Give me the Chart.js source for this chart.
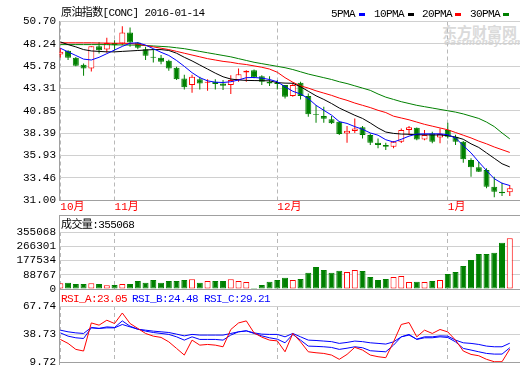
<!DOCTYPE html>
<html>
<head>
<meta charset="utf-8">
<script src="https://cdn.jsdelivr.net/npm/chart.js@4.4.1/dist/chart.umd.min.js"></script>
<style>
  body { margin: 0; background: #fff; }
  #wrap { position: relative; width: 520px; height: 365px; overflow: hidden;
          font-family: "Liberation Mono", "Noto Sans CJK SC", monospace; font-size: 11px; }
  canvas { position: absolute; left: 0; top: 0; }
  .t { position: absolute; white-space: nowrap; line-height: 13px; letter-spacing: -0.6px; }
  .ln { position: absolute; background: #a0a0a0; }
  .mk { position: absolute; width: 6px; height: 3px; }
  .wm { position: absolute; color: #dadada; white-space: nowrap; }
</style>
</head>
<body>
<div id="wrap">
  <div class="wm" style="left:442px;top:21px;font:bold 15px 'Noto Sans CJK SC';">东方财富网</div>
  <div class="wm" style="left:444px;top:37px;font:bold italic 9px 'DejaVu Sans';">eastmoney.com</div>

  <canvas id="price" width="520" height="365"></canvas>
  <canvas id="vol" width="520" height="365"></canvas>
  <canvas id="rsi" width="520" height="365"></canvas>

  <div class="t" style="left:61px;top:7px;">原油指数[CONC] 2016-01-14</div>
  <div class="t" style="left:331px;top:8px;">5PMA</div>
  <div class="mk" style="left:359px;top:13px;background:#0000ff;"></div>
  <div class="t" style="left:374px;top:8px;">10PMA</div>
  <div class="mk" style="left:408px;top:13px;background:#000;"></div>
  <div class="t" style="left:422px;top:8px;">20PMA</div>
  <div class="mk" style="left:455px;top:13px;background:#ff0000;"></div>
  <div class="t" style="left:470px;top:8px;">30PMA</div>
  <div class="mk" style="left:503px;top:13px;background:#008000;"></div>

  <div class="ln" style="left:59px;top:215px;width:461px;height:1px;"></div>
  <div class="ln" style="left:59px;top:215px;width:1px;height:150px;"></div>
  <div class="t" style="left:61px;top:219px;">成交量:355068</div>

  <div class="t" style="left:61px;top:293px;color:#ff0000;">RSI_A:23.05</div>
  <div class="t" style="left:132px;top:293px;color:#0000ff;">RSI_B:24.48</div>
  <div class="t" style="left:204px;top:293px;color:#0000ff;">RSI_C:29.21</div>
</div>

<script>
// daily candles, 2015-10-22 .. 2016-01-14
const open = [47.06, 47.46, 46.69, 45.92, 45.52, 47.98, 47.61, 48.34, 48.28, 49.49,
  48.39, 47.65, 46.80, 46.69, 46.36, 45.59, 44.42, 43.68, 44.34, 43.93,
  44.04, 43.87, 43.68, 44.23, 45.08, 45.33, 44.67, 44.04, 43.93, 43.68,
  42.47, 43.93, 42.47, 40.50, 40.26, 39.90, 39.63, 38.35, 38.61, 39.02,
  38.17, 37.32, 37.06, 36.88, 37.43, 38.72, 38.97, 37.69, 38.35, 37.91,
  38.72, 37.98, 37.43, 35.41, 34.61, 34.31, 32.47, 31.92, 31.85];
const close = [47.35, 46.69, 45.81, 45.52, 47.98, 47.54, 48.34, 48.09, 49.49, 48.39,
  47.79, 46.91, 46.69, 46.25, 45.52, 44.34, 43.43, 44.60, 43.87, 44.04,
  43.79, 43.60, 44.23, 44.89, 45.26, 44.53, 44.04, 43.87, 43.79, 42.39,
  43.68, 42.47, 40.45, 40.40, 39.96, 39.46, 38.28, 38.64, 38.90, 38.17,
  37.32, 37.06, 36.88, 37.43, 38.72, 39.02, 37.69, 38.17, 37.43, 38.28,
  37.98, 37.43, 35.49, 34.61, 34.12, 32.47, 31.92, 31.74, 32.29];
const high = [47.79, 47.54, 46.77, 46.07, 47.98, 48.45, 48.90, 48.64, 50.18, 50.04,
  48.45, 47.90, 47.65, 46.99, 46.48, 45.70, 44.81, 44.81, 44.60, 44.34,
  44.34, 44.23, 44.78, 45.52, 45.33, 45.40, 44.78, 44.67, 44.23, 43.70,
  43.93, 44.04, 42.76, 41.47, 41.29, 40.26, 39.70, 39.16, 40.00, 39.16,
  38.35, 37.80, 37.32, 37.50, 38.90, 39.16, 39.00, 38.72, 38.53, 38.90,
  39.52, 38.20, 37.50, 35.60, 35.22, 34.50, 33.57, 32.91, 32.65];
const low = [46.73, 46.44, 45.77, 44.70, 45.19, 47.17, 47.24, 47.54, 48.09, 47.90,
  47.65, 46.44, 46.18, 45.99, 45.26, 44.23, 43.20, 42.83, 43.20, 43.05,
  43.20, 43.13, 42.69, 44.04, 44.04, 44.45, 43.68, 43.57, 43.20, 42.21,
  42.40, 42.10, 40.18, 39.52, 39.52, 39.40, 38.17, 37.32, 38.40, 37.80,
  37.06, 36.70, 36.51, 36.70, 37.30, 38.17, 37.60, 37.60, 37.25, 37.25,
  37.80, 37.06, 35.11, 33.57, 34.10, 32.30, 31.30, 31.44, 31.44];

// moving averages as drawn
const ma5 = [47.75, 47.35, 46.95, 46.55, 46.45, 46.75, 47.15, 47.55, 47.95, 48.30,
  48.35, 48.10, 47.70, 47.30, 46.95, 46.40, 45.75, 45.05, 44.50, 44.15,
  44.00, 43.97, 44.05, 44.25, 44.50, 44.52, 44.45, 44.30, 44.05, 43.50,
  43.00, 42.70, 42.20, 41.45, 40.90, 40.37, 39.65, 39.45, 39.10, 38.80,
  38.40, 38.15, 37.65, 37.40, 37.70, 38.05, 38.28, 38.30, 38.30, 38.30,
  38.20, 37.85, 37.00, 36.20, 35.20, 34.25, 33.35, 32.85, 32.60];
const ma10 = [48.45, 48.15, 47.90, 47.60, 47.45, 47.40, 47.35, 47.35, 47.40, 47.45,
  47.50, 47.55, 47.60, 47.60, 47.50, 47.20, 46.75, 46.35, 45.90, 45.45,
  45.00, 44.60, 44.35, 44.25, 44.20, 44.18, 44.17, 44.15, 43.95, 43.90,
  43.88, 43.50, 43.00, 42.50, 42.10, 41.65, 41.15, 40.75, 40.35, 40.00,
  39.50, 38.95, 38.50, 38.35, 38.28, 38.25, 38.20, 38.20, 38.18, 38.18,
  38.10, 37.95, 37.70, 37.20, 36.80, 36.20, 35.60, 35.00, 34.65];
const ma20 = [48.35, 48.35, 48.35, 48.35, 48.35, 48.33, 48.32, 48.30, 48.30, 48.28,
  48.20, 48.05, 47.90, 47.75, 47.60, 47.40, 47.20, 47.00, 46.80, 46.60,
  46.45, 46.30, 46.20, 46.05, 45.95, 45.80, 45.65, 45.45, 45.10, 44.50,
  44.00, 43.60, 43.35, 43.05, 42.80, 42.55, 42.25, 42.00, 41.70, 41.45,
  41.20, 40.90, 40.65, 40.25, 40.05, 39.85, 39.60, 39.35, 39.15, 38.95,
  38.75, 38.45, 38.15, 37.85, 37.50, 37.20, 36.85, 36.55, 36.25];
const ma30 = [48.15, 48.15, 48.15, 48.15, 48.15, 48.15, 48.15, 48.12, 48.12, 48.10,
  48.10, 48.05, 48.00, 47.95, 47.90, 47.80, 47.70, 47.55, 47.40, 47.25,
  47.10, 46.95, 46.80, 46.60, 46.40, 46.20, 46.05, 45.90, 45.75, 45.60,
  45.40, 45.15, 44.90, 44.70, 44.50, 44.30, 44.05, 43.85, 43.60, 43.35,
  43.10, 42.70, 42.35, 42.10, 41.85, 41.65, 41.45, 41.30, 41.15, 41.00,
  40.85, 40.70, 40.50, 40.25, 40.00, 39.60, 39.10, 38.40, 37.75];

const volume = [35500, 39200, 31100, 31100, 35500, 31100, 23000, 24900, 31100, 31100,
  49800, 39200, 56000, 39200, 49800, 49800, 56000, 60400, 39200, 49800,
  49800, 49800, 60400, 49800, 43600, 6200, 24900, 45700, 56000, 70400,
  56000, 62300, 101500, 137000, 118300, 101500, 114000, 105900, 118300, 112100,
  74700, 56000, 62300, 74700, 81000, 43600, 45700, 43600, 49800, 56000,
  93400, 105900, 143300, 180600, 218000, 218000, 226100, 288400, 315800];

const rsiA = [33.1, 29.0, 22.8, 21.1, 50.2, 47.9, 53.0, 49.6, 60.5, 49.6,
  44.5, 39.3, 36.5, 35.2, 30.6, 23.8, 16.9, 32.4, 27.2, 27.9,
  27.2, 25.5, 43.4, 50.2, 52.3, 39.9, 35.5, 32.4, 31.6, 20.3,
  39.3, 30.6, 20.3, 19.3, 18.6, 16.9, 12.5, 17.6, 24.9, 22.1,
  16.9, 15.2, 14.2, 30.6, 48.6, 50.6, 35.8, 42.7, 39.3, 43.4,
  40.9, 32.4, 21.1, 17.6, 16.2, 12.5, 10.0, 10.0, 23.05];
const rsiB = [39.9, 36.5, 34.8, 34.1, 45.1, 44.5, 46.1, 45.5, 52.3, 46.8,
  43.7, 41.7, 40.3, 39.3, 38.3, 35.8, 32.4, 35.8, 33.1, 33.1,
  33.1, 32.4, 37.6, 41.0, 42.0, 39.3, 36.8, 34.8, 33.4, 29.6,
  38.3, 32.4, 26.2, 25.9, 25.5, 24.8, 22.8, 24.0, 25.5, 24.5,
  21.4, 20.8, 20.3, 27.2, 35.8, 38.3, 33.1, 34.8, 34.8, 35.8,
  35.1, 30.6, 23.8, 22.1, 20.3, 18.6, 17.9, 17.9, 24.48];
const rsiC = [42.7, 41.0, 39.9, 39.3, 45.5, 44.5, 45.1, 45.1, 48.6, 46.1,
  43.7, 42.7, 41.7, 41.0, 40.3, 38.6, 36.8, 38.3, 37.6, 37.6,
  37.6, 37.6, 39.3, 41.0, 42.0, 39.9, 38.6, 38.3, 38.3, 35.8,
  39.3, 35.8, 32.4, 32.0, 31.4, 30.8, 29.0, 30.0, 31.4, 30.8,
  29.6, 29.0, 28.3, 30.6, 35.8, 37.6, 33.4, 35.8, 35.8, 36.8,
  36.5, 32.4, 29.6, 29.0, 27.9, 26.2, 25.5, 25.5, 29.21];

// axis labels
const monthIdx = [0, 7, 28, 50];
const monthNames = ['10月', '11月', '12月', '1月'];
const priceTicks = [31.00, 33.46, 35.93, 38.39, 40.85, 43.31, 45.78, 48.24, 50.70];
const volTicks = [0, 88767, 177534, 266301, 355068];
const rsiTicks = [9.72, 38.73, 67.74];

const RED = '#ff0000', GREEN = '#008000', BLUE = '#0000ff';
const FONT = { family: "'Liberation Mono', 'Noto Sans CJK SC', monospace", size: 11 };
const days = open.map((_, i) => i);
const up = close.map((c, i) => c >= open[i]);

function xScale(withLabels) {
  return {
    type: 'linear', min: -0.17, max: 59.32, offset: false,
    afterBuildTicks: s => { s.ticks = monthIdx.map(v => ({ value: v })); },
    afterFit: s => { s.height = withLabels ? 15 : 0; s.paddingLeft = 0; s.paddingRight = 0; },
    grid: { color: '#b8b8b8', drawTicks: false, offset: false },
    border: { color: '#a0a0a0', dash: [4, 3] },
    ticks: {
      display: withLabels, autoSkip: false, maxRotation: 0, align: 'start', padding: 0,
      color: RED, font: FONT, callback: v => monthNames[monthIdx.indexOf(v)]
    }
  };
}

function yScale(min, max, ticks, fmt) {
  return {
    min, max,
    afterBuildTicks: s => { s.ticks = ticks.map(v => ({ value: v })); },
    afterFit: s => { s.width = 59; s.paddingTop = 0; s.paddingBottom = 0; },
    grid: { color: '#d0d0d0', drawTicks: false },
    border: { color: '#a0a0a0' },
    ticks: { color: '#000', padding: 3, font: FONT, autoSkip: false, callback: fmt }
  };
}

const base = {
  responsive: false,
  animation: false,
  events: [],
  plugins: { legend: { display: false }, tooltip: { enabled: false } }
};

const maLine = (data, color) => ({
  type: 'line', data, borderColor: color, borderWidth: 1, pointRadius: 0, tension: 0
});

// price panel: MAs over candle bodies over wicks
new Chart(document.getElementById('price'), {
  type: 'bar',
  data: {
    labels: days,
    datasets: [
      maLine(ma5, BLUE),
      maLine(ma10, '#000'),
      maLine(ma20, RED),
      maLine(ma30, GREEN),
      {
        type: 'bar',
        data: open.map((o, i) => [o, close[i]]),
        backgroundColor: up.map(u => u ? '#fff' : GREEN),
        borderColor: up.map(u => u ? RED : GREEN),
        borderWidth: 1, borderSkipped: false, barThickness: 6, grouped: false, inflateAmount: 0
      },
      {
        type: 'bar',
        data: low.map((l, i) => [l, high[i]]),
        backgroundColor: up.map(u => u ? RED : GREEN),
        borderWidth: 0, barThickness: 1, grouped: false, inflateAmount: 0
      }
    ]
  },
  options: {
    ...base,
    layout: { padding: { top: 21.5, bottom: 150, left: 0, right: 0 } },
    scales: {
      x: xScale(true),
      y: yScale(31, 50.70, priceTicks, v => v.toFixed(2))
    }
  }
});

// volume panel
new Chart(document.getElementById('vol'), {
  type: 'bar',
  data: {
    labels: days,
    datasets: [{
      data: volume,
      backgroundColor: up.map(u => u ? '#fff' : GREEN),
      borderColor: up.map(u => u ? RED : GREEN),
      borderWidth: 1, borderSkipped: false, barThickness: 6, inflateAmount: 0
    }]
  },
  options: {
    ...base,
    layout: { padding: { top: 232, bottom: 76, left: 0, right: 0 } },
    scales: {
      x: xScale(false),
      y: yScale(0, 355068, volTicks, v => String(v))
    }
  }
});

// RSI panel
new Chart(document.getElementById('rsi'), {
  type: 'line',
  data: {
    labels: days,
    datasets: [
      maLine(rsiA, RED),
      maLine(rsiB, BLUE),
      maLine(rsiC, BLUE)
    ]
  },
  options: {
    ...base,
    layout: { padding: { top: 306, bottom: 3, left: 0, right: 0 } },
    scales: {
      x: xScale(false),
      y: yScale(9.72, 67.74, rsiTicks, v => v.toFixed(2))
    }
  }
});
</script>
</body>
</html>
